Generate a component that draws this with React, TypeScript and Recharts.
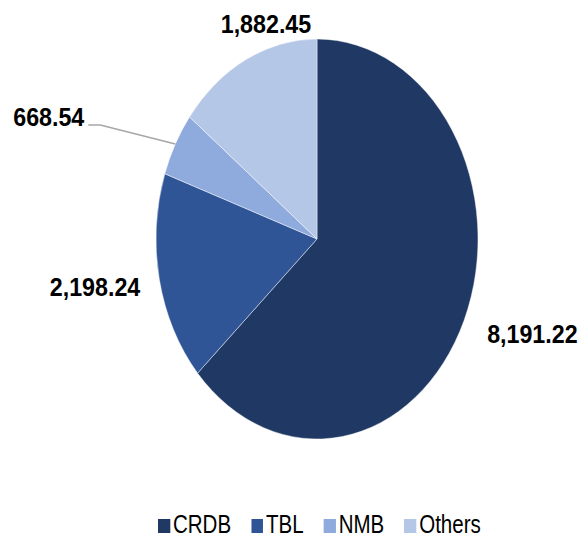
import { PieChart, Pie, Cell, Legend } from "recharts";

const BANKS = ["CRDB", "TBL", "NMB", "Others"];
const AMOUNTS = [8191.22, 2198.24, 668.54, 1882.45];
const AMOUNT_LABELS = ["8,191.22", "2,198.24", "668.54", "1,882.45"];

const COLORS: Record<string, string> = {
    CRDB: "#203864",
    TBL: "#2f5597",
    NMB: "#8faadc",
    Others: "#b4c7e7",
};

const W = 588;
const H = 539;
const CX = 317;
const CY = 239;
const RY = 200;
const SQUASH = 0.805; // pie is an ellipse: rx = ry * SQUASH

const FONT = "'Liberation Sans', Arial, sans-serif";
const LABEL_NARROW = 0.93;
const LEGEND_NARROW = 0.82;
const RAD = Math.PI / 180;

// where each label sits relative to the edge of its slice
const NUDGE = [
    { dx: 23, dy: 23, anchor: "start" },
    { dx: -19, dy: 17, anchor: "end" },
    { dx: -91, dy: -18, anchor: "end" },
    { dx: 20, dy: -27, anchor: "middle" },
];

const pieData = BANKS.map((name, i) => ({
    name,
    value: AMOUNTS[i],
    label: AMOUNT_LABELS[i],
}));

function renderLabel(props: any) {
    const { cx, cy, midAngle, outerRadius, index } = props;
    const ex = cx + outerRadius * SQUASH * Math.cos(-midAngle * RAD);
    const ey = cy + outerRadius * Math.sin(-midAngle * RAD);
    const n = NUDGE[index];
    const tx = ex + n.dx;
    const ty = ey + n.dy;
    return (
        <g key={`lbl-${index}`}>
            {index === 2 && (
                <polyline
                    points={`${ex},${ey} ${tx + 16},${ty - 1} ${tx + 4},${ty - 1}`}
                    fill="none"
                    stroke="#a6a6a6"
                    strokeWidth={1.5}
                />
            )}
            <text
                x={0}
                y={0}
                transform={`translate(${tx},${ty}) scale(${LABEL_NARROW},1)`}
                textAnchor={n.anchor}
                fontFamily={FONT}
                fontWeight="bold"
                fontSize={25}
                fill="#000"
            >
                {pieData[index].label}
            </text>
        </g>
    );
}

function BankLegend() {
    const k = 1 / LEGEND_NARROW;
    return (
        <div
            style={{
                display: "flex",
                alignItems: "center",
                marginLeft: 158,
                transform: `scaleX(${LEGEND_NARROW})`,
                transformOrigin: "left center",
                fontFamily: FONT,
                fontSize: 25,
                color: "#000",
                whiteSpace: "nowrap",
            }}
        >
            {BANKS.map((b) => (
                <div key={b} style={{ display: "flex", alignItems: "center", marginRight: 20 * k }}>
                    <span style={{ width: 12 * k, height: 14, background: COLORS[b], marginRight: 3 * k, marginTop: 2 }} />
                    <span>{b}</span>
                </div>
            ))}
        </div>
    );
}

export default function App() {
    return (
        <div style={{ position: "absolute", left: 0, top: 0, width: W, height: H, background: "#fff" }}>
            <style>{`.recharts-pie-sector path { transform: scale(${SQUASH}, 1); transform-origin: ${CX}px ${CY}px; }`}</style>
            <PieChart width={W} height={H} margin={{ top: 0, right: 0, bottom: 0, left: 0 }}>
                <Pie
                    data={pieData}
                    dataKey="value"
                    nameKey="name"
                    cx={CX}
                    cy={CY}
                    outerRadius={RY}
                    startAngle={90}
                    endAngle={-270}
                    stroke="#ffffff"
                    strokeWidth={0.5}
                    label={renderLabel}
                    labelLine={false}
                    isAnimationActive={false}
                >
                    {pieData.map((s) => (
                        <Cell key={s.name} fill={COLORS[s.name]} />
                    ))}
                </Pie>
                <Legend verticalAlign="bottom" wrapperStyle={{ bottom: 0 }} content={<BankLegend />} />
            </PieChart>
        </div>
    );
}
